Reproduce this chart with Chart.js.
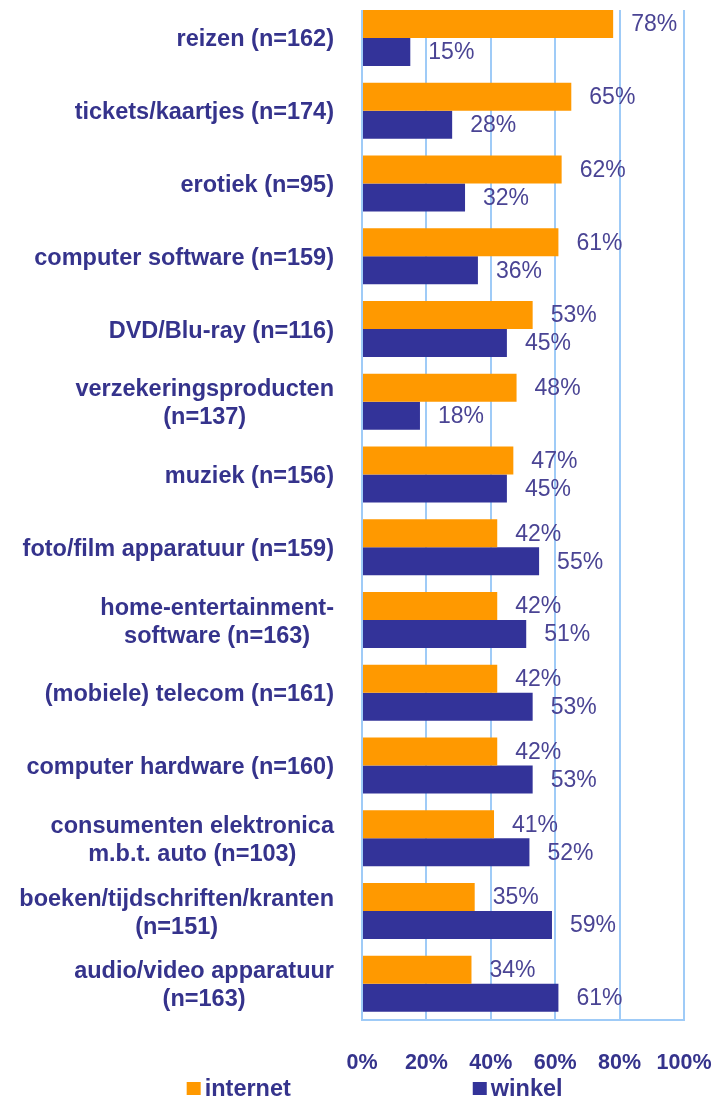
<!DOCTYPE html>
<html>
<head>
<meta charset="utf-8">
<script src="https://cdn.jsdelivr.net/npm/chart.js@4/dist/chart.umd.min.js"></script>
<style>
  html, body { margin: 0; padding: 0; background: #ffffff; }
  #wrap { width: 717px; height: 1098px; position: relative; }
</style>
</head>
<body>
<div id="wrap"><canvas id="c"></canvas></div>
<script>
// ---- data ----
const categories = [
  ["reizen (n=162)"],
  ["tickets/kaartjes (n=174)"],
  ["erotiek (n=95)"],
  ["computer software (n=159)"],
  ["DVD/Blu-ray (n=116)"],
  ["verzekeringsproducten", "(n=137)"],
  ["muziek (n=156)"],
  ["foto/film apparatuur (n=159)"],
  ["home-entertainment-", "software (n=163)"],
  ["(mobiele) telecom (n=161)"],
  ["computer hardware (n=160)"],
  ["consumenten elektronica", "m.b.t. auto (n=103)"],
  ["boeken/tijdschriften/kranten", "(n=151)"],
  ["audio/video apparatuur", "(n=163)"]
];
const internet = [78, 65, 62, 61, 53, 48, 47, 42, 42, 42, 42, 41, 35, 34];
const winkel   = [15, 28, 32, 36, 45, 18, 45, 55, 51, 53, 53, 52, 59, 61];
const seriesNames = ["internet", "winkel"];
const xTicks = [0, 20, 40, 60, 80, 100];

// ---- styles ----
const ORANGE = '#ff9900';
const BLUE = '#333399';
const GRID = '#9fcbf7';
const LABEL_COLOR = '#35338c';
const VALUE_COLOR = '#4a4494';
const FAMILY = '"Liberation Sans", Arial, sans-serif';
const CAT_FONT = '700 23.5px ' + FAMILY;
const VAL_FONT = '400 23px ' + FAMILY;
const LEG_FONT = '700 23.5px ' + FAMILY;
const CAT_GAP = 28;
const CAT_LINE = 28;

const toPoints = arr => arr.map((v, i) => ({ x: v, y: i }));

const catLabelPlugin = {
  id: 'catLabels',
  afterDraw(chart) {
    const ctx = chart.ctx, ys = chart.scales.y;
    ctx.save();
    ctx.font = CAT_FONT;
    ctx.fillStyle = LABEL_COLOR;
    ctx.textAlign = 'center';
    ctx.textBaseline = 'middle';
    categories.forEach((lines, i) => {
      const y = ys.getPixelForValue(i);
      const w = Math.max(...lines.map(l => ctx.measureText(l).width));
      const cx = ys.right - CAT_GAP - w / 2;
      lines.forEach((l, j) => {
        ctx.fillText(l, cx, y + 2 + (j - (lines.length - 1) / 2) * CAT_LINE);
      });
    });
    ctx.restore();
  }
};

const valueLabelPlugin = {
  id: 'valueLabels',
  afterDatasetsDraw(chart) {
    const ctx = chart.ctx;
    ctx.save();
    ctx.font = VAL_FONT;
    ctx.fillStyle = VALUE_COLOR;
    ctx.textAlign = 'left';
    ctx.textBaseline = 'middle';
    chart.data.datasets.forEach((ds, di) => {
      const meta = chart.getDatasetMeta(di);
      meta.data.forEach((el, i) => {
        ctx.fillText(ds.data[i].x + '%', el.x + 18, el.y + 1);
      });
    });
    ctx.restore();
  }
};

const legendPlugin = {
  id: 'splitLegend',
  afterDraw(chart, args, opts) {
    const ctx = chart.ctx;
    ctx.save();
    ctx.font = LEG_FONT;
    ctx.textBaseline = 'middle';
    ctx.textAlign = 'left';
    const y = chart.height - opts.bottom;
    chart.data.datasets.forEach((ds, di) => {
      const text = ds.label;
      const tw = ctx.measureText(text).width;
      const box = 14, gap = 4;
      const total = box + gap + tw;
      const cx = chart.width * opts.centers[di];
      const x0 = cx - total / 2;
      ctx.fillStyle = ds.backgroundColor;
      ctx.fillRect(x0, y - box / 2 - 1, box, box - 1);
      ctx.fillStyle = LABEL_COLOR;
      ctx.fillText(text, x0 + box + gap, y);
    });
    ctx.restore();
  }
};

new Chart(document.getElementById('c'), {
  type: 'bar',
  data: {
    datasets: [
      { label: seriesNames[0], data: toPoints(internet), backgroundColor: ORANGE },
      { label: seriesNames[1], data: toPoints(winkel), backgroundColor: BLUE }
    ]
  },
  options: {
    indexAxis: 'y',
    responsive: true,
    maintainAspectRatio: false,
    animation: false,
    layout: { padding: { top: 10, left: 19, right: 0, bottom: 22 } },
    datasets: { bar: { categoryPercentage: 0.77, barPercentage: 1.0 } },
    scales: {
      x: {
        type: 'linear',
        min: 0, max: 100,
        afterBuildTicks: s => { s.ticks = xTicks.map(v => ({ value: v })); },
        ticks: {
          callback: v => v + '%',
          color: LABEL_COLOR,
          font: { family: FAMILY, size: 21.5, weight: '700' },
          padding: 30,
          maxRotation: 0
        },
        grid: { color: GRID, lineWidth: 2, drawTicks: false },
        border: { color: GRID, width: 2 },
        afterFit: s => {
          s.height = s.height - s.options.ticks.padding;
          s.paddingRight = 33;
        }
      },
      y: {
        type: 'linear',
        reverse: true,
        offset: false,
        min: -0.385, max: 13.5,
        afterBuildTicks: s => { s.ticks = categories.map((c, i) => ({ value: i })); },
        ticks: { display: false },
        grid: { display: false },
        border: { display: false },
        afterFit: s => {
          const ctx = s.ctx;
          ctx.save();
          ctx.font = CAT_FONT;
          let w = 0;
          categories.forEach(lines => lines.forEach(l => { w = Math.max(w, ctx.measureText(l).width); }));
          ctx.restore();
          s.width = Math.ceil(w) + CAT_GAP;
        }
      }
    },
    plugins: {
      legend: { display: false },
      tooltip: { enabled: false },
      splitLegend: { centers: [0.333, 0.722], bottom: 8 }
    }
  },
  plugins: [catLabelPlugin, valueLabelPlugin, legendPlugin]
});
</script>
</body>
</html>
